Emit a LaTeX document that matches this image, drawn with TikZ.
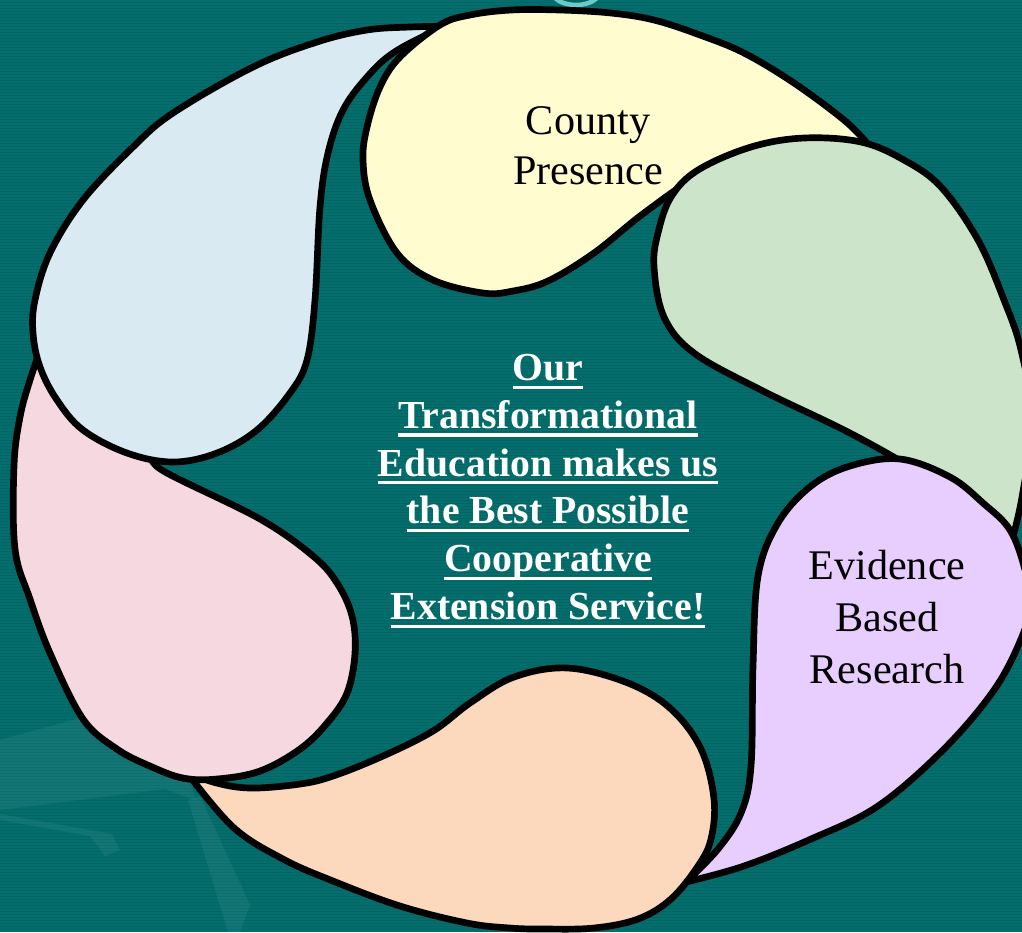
\documentclass[tikz,border=0pt]{standalone}
\usepackage{fontspec}
\setmainfont{Liberation Serif}
\definecolor{bgteal}{RGB}{0,102,102}
\definecolor{stripeteal}{RGB}{6,109,109}
\definecolor{cyanring}{RGB}{110,200,200}
\definecolor{cYellow}{RGB}{255,253,208}
\definecolor{cGreen}{RGB}{204,228,202}
\definecolor{cLav}{RGB}{232,206,255}
\definecolor{cPeach}{RGB}{252,216,189}
\definecolor{cPink}{RGB}{245,216,224}
\definecolor{cBlue}{RGB}{217,234,242}
\newcommand\ulline[1]{\setbox0\hbox{#1}\leavevmode\rlap{\rule[-2.4pt]{\wd0}{0.9pt}}\box0}
\tikzset{
  drop/.style={draw=black, line width=1.9pt, line join=round, fill=#1},
  lbl/.style={font=\fontsize{12pt}{14.2pt}\selectfont, text=black, align=center, inner sep=0pt},
  ctr/.style={font=\fontsize{11.3pt}{13.6pt}\selectfont\bfseries, text=white, align=center, inner sep=0pt},
  ghost/.style={fill=white, fill opacity=0.06, draw=none},
}
\newcommand\pinkshape{\filldraw[drop=cPink] plot[smooth, tension=0.6] coordinates {(42,345) (30,380) (20,417) (14,466) (15,549) (30,599) (50,653) (83,719) (117,749) (150,766) (183,778) (217,779) (260,771) (300,749) (327,723) (347,693) (355,653) (352,616) (337,583) (313,556) (260,519) (167,473) (145,455) (90,425) (55,385) (42,345)} -- cycle;}
\begin{document}
\begin{tikzpicture}[x=0.01cm, y=-0.01cm]
\useasboundingbox (0,0) rectangle (1022,932);
\clip (0,0) rectangle (1022,932);
% background
\fill[bgteal] (0,0) rectangle (1022,932);
\foreach \yy in {1,4,...,932} \draw[stripeteal, line width=0.012cm] (0,\yy) -- (1022,\yy);
\path[ghost] (0,740) -- (80,718) -- (160,740) -- (190,775) -- (195,800) -- (165,789) -- (0,810) -- cycle;
\path[ghost] (0,820) -- (90,836) -- (105,856) -- (120,850) -- (112,834) -- (0,814) -- cycle;
\path[ghost] (188,800) -- (200,796) -- (250,905) -- (240,932) -- (228,932) -- cycle;
% small ring at top
\draw[cyanring, line width=1.3pt, fill=bgteal] (576,-9) ellipse [x radius=0.24cm, y radius=0.14cm];
% teardrops
\pinkshape
\filldraw[drop=cBlue] plot[smooth, tension=0.6] coordinates {(455,26) (410,27) (367,30) (317,42) (253,67) (173,113) (133,147) (83,200) (50,253) (35,300) (33,333) (40,367) (57,400) (83,430) (127,453) (173,462) (217,453) (257,430) (290,393) (307,360) (315,300) (320,207) (328,153) (343,110) (367,77) (393,53) (433,32) (455,26)} -- cycle;
\filldraw[drop=cYellow] plot[smooth, tension=0.6] coordinates {(866,142) (844,120) (794,83) (744,53) (700,35) (654,20) (611,13) (560,10) (511,10) (470,15) (440,25) (400,57) (380,87) (367,127) (363,160) (370,200) (397,253) (433,280) (483,293) (513,291) (548,281) (594,253) (644,213) (700,175) (760,152) (820,142) (866,142)} -- cycle;
\filldraw[drop=cGreen] plot[smooth, tension=0.6] coordinates {(1012,540) (1022,497) (1032,420) (1021,350) (1004,300) (978,240) (941,187) (904,160) (861,142) (804,138) (751,147) (698,170) (671,197) (658,233) (654,267) (664,317) (694,353) (761,390) (844,430) (904,463) (955,495) (1012,540)} -- cycle;
\filldraw[drop=cLav] plot[smooth, tension=0.6] coordinates {(686,882) (718,849) (741,813) (751,766) (753,666) (758,576) (778,523) (811,486) (850,466) (900,459) (950,477) (983,503) (1010,530) (1025,570) (1030,605) (1021,639) (994,690) (944,749) (878,806) (811,839) (744,866) (686,882)} -- cycle;
\filldraw[drop=cPeach] plot[smooth, tension=0.6] coordinates {(185,770) (233,827) (283,859) (333,881) (400,906) (467,923) (510,928) (544,929) (594,928) (638,919) (671,899) (698,866) (711,839) (714,799) (701,749) (671,709) (628,683) (568,668) (514,677) (470,703) (433,731) (383,756) (333,776) (300,784) (250,788) (213,782) (185,770)} -- cycle;
\begin{scope}
\clip (100,640) rectangle (420,932);
\pinkshape
\end{scope}
% labels
\node[lbl] (county) at (588,146) {County\\Presence};
\node[lbl, font=\fontsize{12pt}{14.75pt}\selectfont] (evidence) at (887,617) {Evidence\\Based\\Research};
\node[ctr] (mission) at (548,491) {\ulline{Our}\\\ulline{Transformational}\\\ulline{Education makes us}\\\ulline{the Best Possible}\\\ulline{Cooperative}\\\ulline{Extension Service!}};
\end{tikzpicture}
\end{document}
